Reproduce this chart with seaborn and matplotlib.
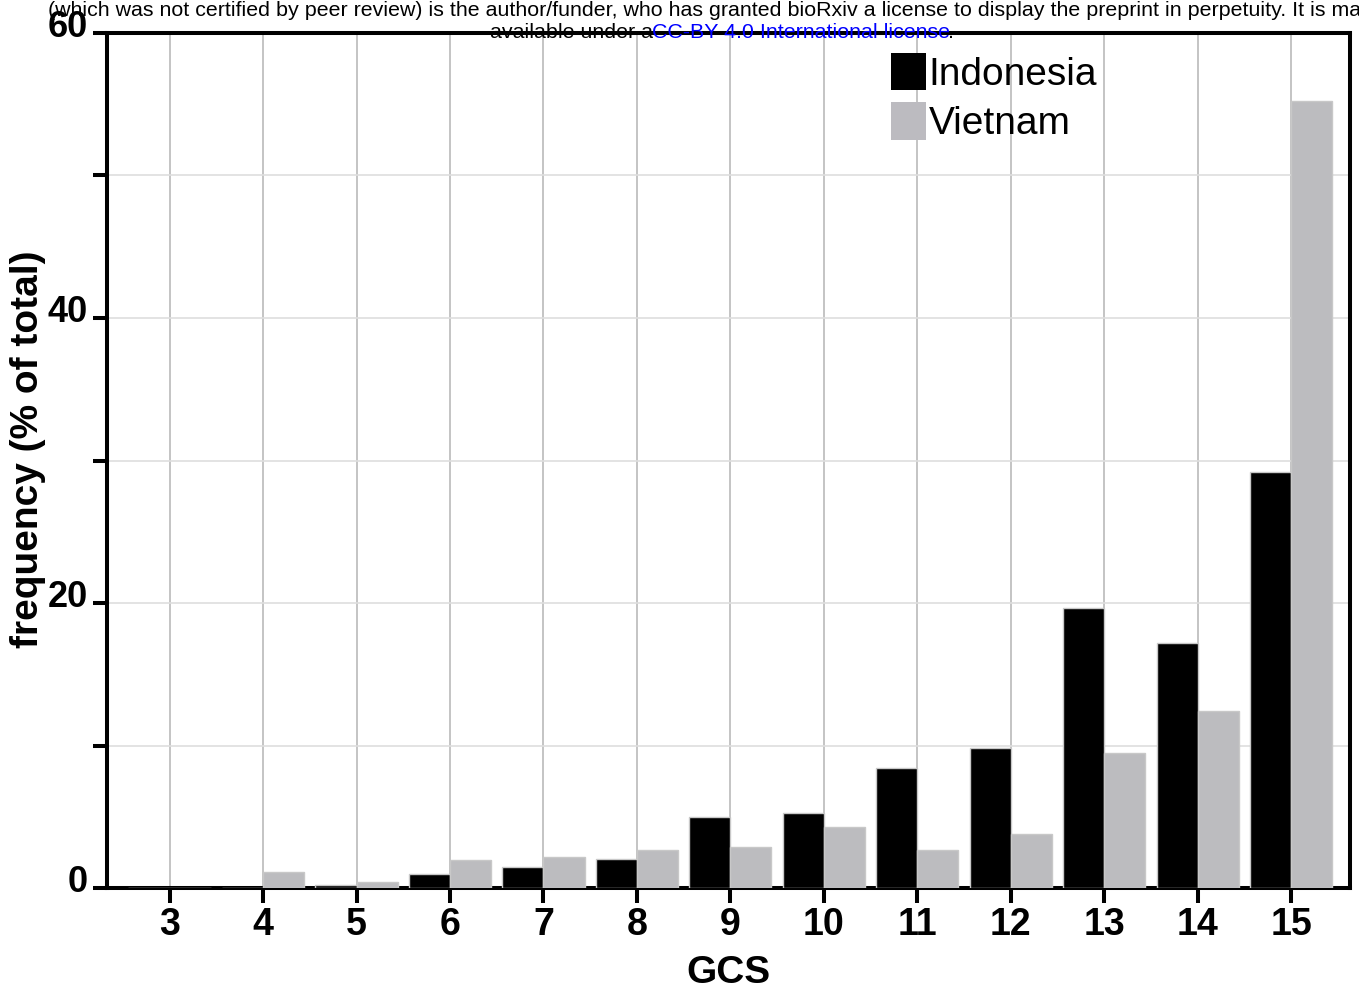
import matplotlib
matplotlib.use("Agg")
import matplotlib.pyplot as plt
from matplotlib.ticker import MultipleLocator
from matplotlib.patches import Patch
from matplotlib.transforms import ScaledTranslation
import seaborn as sns
import pandas as pd

# ---- data ----
gcs = [3, 4, 5, 6, 7, 8, 9, 10, 11, 12, 13, 14, 15]
indonesia = [0.0, 0.0, 0.2, 1.0, 1.5, 2.05, 5.0, 5.25, 8.45, 9.8, 19.65, 17.2, 29.2]
vietnam = [0.0, 1.1, 0.4, 2.0, 2.2, 2.65, 2.9, 4.25, 2.7, 3.8, 9.5, 12.4, 55.25]
countries = ["Indonesia", "Vietnam"]
colors = ["#000000", "#bcbbc0"]

df = pd.DataFrame({
    "GCS": [str(g) for g in gcs] * 2,
    "freq": indonesia + vietnam,
    "country": [countries[0]] * len(gcs) + [countries[1]] * len(gcs),
})

sns.set_style("white")
plt.rcParams["font.family"] = ["Liberation Sans", "DejaVu Sans"]
plt.rcParams["text.color"] = "black"
plt.rcParams["axes.labelcolor"] = "black"
plt.rcParams["xtick.color"] = "black"
plt.rcParams["ytick.color"] = "black"

fig = plt.figure(figsize=(13.59, 9.96), dpi=100)
ax = fig.add_axes([0.0787, 0.1084, 0.9934 - 0.0787, 0.9669 - 0.1084])

sns.barplot(data=df, x="GCS", y="freq", hue="country", palette=colors,
            order=[str(g) for g in gcs], hue_order=countries,
            width=0.88, gap=0, ax=ax, legend=False,
            edgecolor="#c8c8c8", linewidth=1, zorder=3)

ax.set_xlim(-0.67, 12.63)
ax.set_ylim(0, 60)
ax.yaxis.set_major_locator(MultipleLocator(20))
ax.yaxis.set_minor_locator(MultipleLocator(10))
ax.grid(True, axis="y", which="both", color="#dedede", linewidth=1.2, zorder=0)
ax.grid(True, axis="x", which="major", color="#c4c4c4", linewidth=1.4, zorder=0)
ax.set_axisbelow(True)

for s in ax.spines.values():
    s.set_visible(True)
    s.set_linewidth(2.9)
    s.set_color("black")

ax.tick_params(axis="x", which="major", direction="out", length=10.5,
               width=2.9, labelsize=27, pad=3)
ax.tick_params(axis="y", which="major", direction="out", length=10,
               width=2.9, labelsize=26, pad=4)
ax.tick_params(axis="y", which="minor", direction="out", length=10,
               width=2.9)
ax.tick_params(left=True, bottom=True, which="both")
for lab in ax.get_xticklabels() + ax.get_yticklabels():
    lab.set_fontweight("bold")
shift = ScaledTranslation(0, 7 / 72, fig.dpi_scale_trans)
for lab in ax.get_yticklabels():
    lab.set_transform(lab.get_transform() + shift)

ax.set_xlabel("GCS", fontsize=28, fontweight="bold", labelpad=9)
ax.set_ylabel("frequency (% of total)", fontsize=28, fontweight="bold")
ax.yaxis.set_label_coords(-0.049, 0.513)

handles = [Patch(facecolor=c, edgecolor="none") for c in colors]
ax.legend(handles, countries, loc="upper left", bbox_to_anchor=(0.631, 0.977),
          frameon=False, fontsize=28, handlelength=0.88, handleheight=1.1,
          handletextpad=0.08, labelspacing=0.25, borderpad=0, borderaxespad=0)

# bioRxiv header text
hdr = 15.4
fig.text(48 / 1359, 1 - 11 / 996,
         "(which was not certified by peer review) is the author/funder, who has granted bioRxiv a license to display the preprint in perpetuity. It is made",
         fontsize=hdr, ha="left", va="center", color="black")
fig.text(490 / 1359, 1 - 33 / 996, "available under a", fontsize=hdr,
         ha="left", va="center", color="black")
fig.text(652 / 1359, 1 - 33 / 996, "CC-BY 4.0 International license", fontsize=hdr,
         ha="left", va="center", color="#0000ff")
fig.text(948 / 1359, 1 - 33 / 996, ".", fontsize=hdr,
         ha="left", va="center", color="black")

fig.savefig("out.png", dpi=100)
